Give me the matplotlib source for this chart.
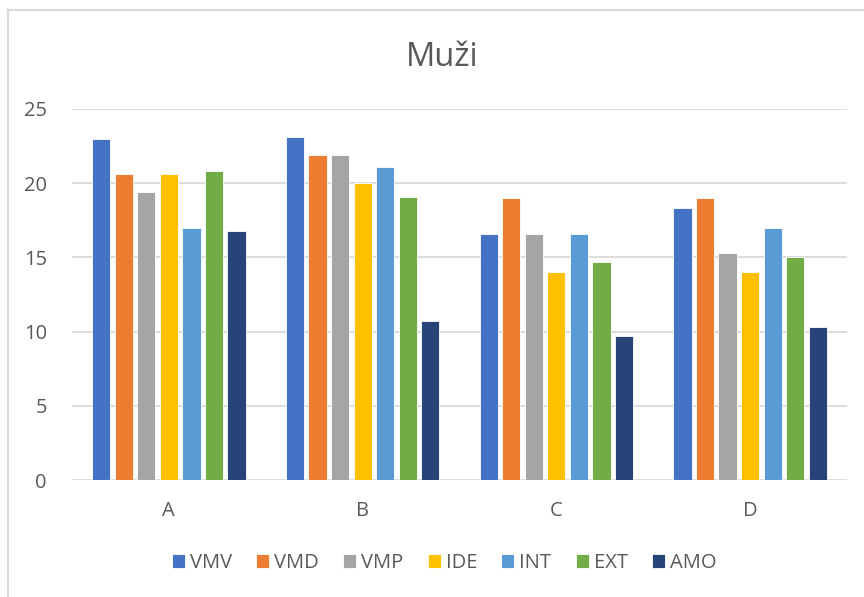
import matplotlib
matplotlib.use("Agg")
import matplotlib.pyplot as plt
from matplotlib.lines import Line2D
import numpy as np

plt.rcParams['font.family'] = ['Open Sans', 'DejaVu Sans']

categories = ["A", "B", "C", "D"]
series = ["VMV", "VMD", "VMP", "IDE", "INT", "EXT", "AMO"]
colors = ["#4472C4", "#ED7D31", "#A5A5A5", "#FFC000", "#5B9BD5", "#70AD47", "#264478"]

vmv = [23.0, 23.1, 16.6, 18.3]
vmd = [20.6, 21.9, 19.0, 19.0]
vmp = [19.4, 21.9, 16.6, 15.3]
ide = [20.6, 20.0, 14.0, 14.0]
intr = [17.0, 21.1, 16.6, 17.0]
ext = [20.8, 19.1, 14.7, 15.0]
amo = [16.8, 10.7, 9.7, 10.3]
values = [vmv, vmd, vmp, ide, intr, ext, amo]

text_col = "#595959"
grid_col = "#D9D9D9"

fig = plt.figure(figsize=(8.64, 5.97), dpi=100)
# plot area: x 72..847, y 109..480 (pixels)
ax = fig.add_axes([72 / 864, 1 - 480 / 597, 775 / 864, 371 / 597])

x = np.arange(len(categories))
slot = 0.1165
width = 0.094
for i, (name, vals) in enumerate(zip(series, values)):
    offs = (i - 3) * slot
    ax.bar(x + offs, vals, width, color=colors[i], label=name,
           edgecolor="white", linewidth=0.6, zorder=3)

ax.set_xlim(-0.5, 3.5)
ax.set_ylim(0, 25)
ax.set_yticks([0, 5, 10, 15, 20, 25])
ax.set_xticks(x)
ax.set_xticklabels(categories)
ax.grid(axis="y", color=grid_col, linewidth=1.3, zorder=0)
for s in ["top", "right", "left", "bottom"]:
    ax.spines[s].set_visible(False)
ax.tick_params(axis="both", length=0, colors=text_col, labelsize=14.5)
ax.tick_params(axis="y", pad=18)
ax.tick_params(axis="x", pad=15)
for lbl in ax.get_yticklabels() + ax.get_xticklabels():
    lbl.set_color(text_col)

fig.text(442 / 864, 1 - 66 / 597, "Muži", ha="center", va="baseline",
         fontsize=23.5, color=text_col)

leg = fig.legend(loc="center", bbox_to_anchor=(444 / 864, 1 - 563 / 597), ncol=7,
                 frameon=False, fontsize=14.5, handlelength=0.65, handleheight=0.65,
                 handletextpad=0.25, columnspacing=1.2)
for t in leg.get_texts():
    t.set_color(text_col)

# chart border (top and left visible in the crop)
fig.add_artist(Line2D([8 / 864, 8 / 864], [0, 1 - 10 / 597], color=grid_col, linewidth=1.5,
                      transform=fig.transFigure))
fig.add_artist(Line2D([8 / 864, 1], [1 - 10 / 597, 1 - 10 / 597], color=grid_col, linewidth=1.5,
                      transform=fig.transFigure))

fig.savefig("out.png", dpi=100)
